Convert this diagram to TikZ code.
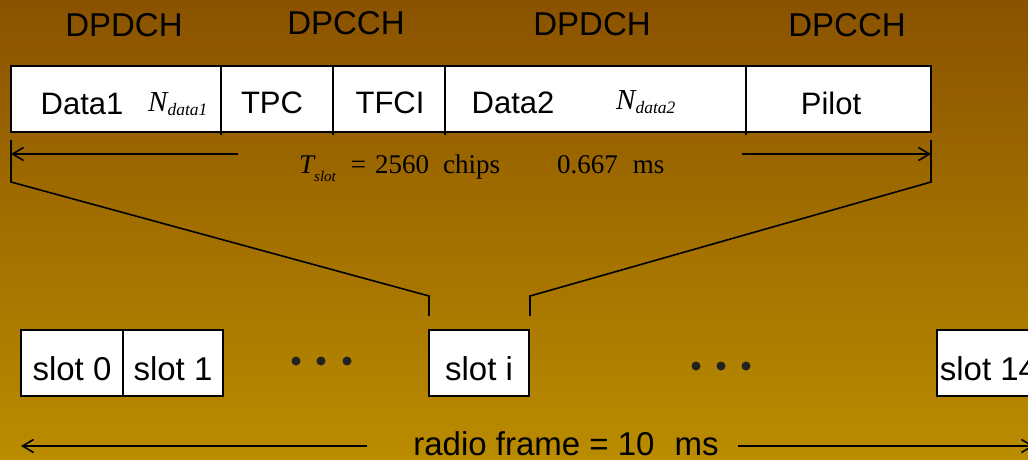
\documentclass[tikz,border=0pt]{standalone}
\usepackage{fontspec}
\setmainfont{Liberation Sans}
\newfontfamily\timesfont{Liberation Serif}
\usepackage{tikz}
\usetikzlibrary{arrows.meta,calc}
\definecolor{bgtop}{RGB}{138,82,0}
\definecolor{bgbot}{RGB}{186,140,0}
\definecolor{dotgray}{RGB}{34,34,34}

\begin{document}
\begin{tikzpicture}[x=1pt, y=-1pt,
  field/.style={draw, fill=white, line width=1.9pt, minimum height=66pt, inner sep=0pt, outer sep=0pt, anchor=north west},
  boxtext/.style={anchor=base, inner sep=0pt, font=\fontsize{31}{31}\selectfont},
  chantext/.style={anchor=base, inner sep=0pt, font=\fontsize{33}{33}\selectfont},
  mathtext/.style={anchor=base west, inner sep=0pt, font=\timesfont\fontsize{29}{29}\selectfont},
  guide/.style={line width=1.6pt},
  dimarrow/.style={line width=1.6pt, -{Straight Barb[length=11pt,width=13pt]}}]
  % Background
  \useasboundingbox (0,0) rectangle (1028,459);
  \clip (0,0) rectangle (1028,459);
  \shade[top color=bgtop, bottom color=bgbot] (0,0) rectangle (1028,459);
  % Channel names
  \node[chantext] (ch1) at (124,36) {DPDCH};
  \node[chantext] (ch2) at (346,34) {DPCCH};
  \node[chantext] (ch3) at (592,35) {DPDCH};
  \node[chantext] (ch4) at (847,36) {DPCCH};
  % Slot fields
  \foreach \n/\x/\w in {data1/11/210, tpc/221/112, tfci/333/112, data2/445/301, pilot/746/185} {
    \node[field, minimum width=\w pt] (\n) at (\x,66) {};
  }
  \foreach \n in {tpc, tfci, data2, pilot} {
    \draw[guide] (\n.south west) -- ++(0,3);
  }
  % Field labels
  \node[boxtext] (data1-t) at (82,114) {Data1};
  \node[mathtext] (ndata1) at (148,111) {\itshape N\raisebox{-4pt}{\fontsize{17.5}{17.5}\selectfont data1}};
  \node[boxtext] (tpc-t) at (272,113) {TPC};
  \node[boxtext] (tfci-t) at (390,113) {TFCI};
  \node[boxtext] (data2-t) at (513,113) {Data2};
  \node[mathtext] (ndata2) at (616,109) {\itshape N\raisebox{-4pt}{\fontsize{17.5}{17.5}\selectfont data2}};
  \node[boxtext] (pilot-t) at (831,114) {Pilot};
  % Slot duration
  \coordinate (tslotL) at ($(data1.south west)+(0,22)$);
  \coordinate (tslotL0) at ($(tslotL)+(227,0)$);
  \coordinate (tslotR) at ($(pilot.south east)+(0,22)$);
  \coordinate (tslotR0) at ($(tslotR)+(-189,0)$);
  \draw[dimarrow] (tslotL0) -- (tslotL);
  \draw[dimarrow] (tslotR0) -- (tslotR);
  \node[anchor=base west, inner sep=0pt, font=\timesfont\fontsize{27}{27}\selectfont] (tslot) at (299,173)
    {{\itshape T}\raisebox{-8pt}{\fontsize{15}{15}\selectfont\itshape slot}\hspace{15pt}=\hspace{9pt}2560\hspace{14pt}chips\hspace{57pt}0.667\hspace{15pt}ms};
  % Radio frame slots
  \foreach \n/\x/\w/\l in {slot0/21/102/slot 0, slot1/123/100/slot 1, sloti/429/100/slot i, slot14/937/103/slot 14} {
    \node[field, minimum width=\w pt] (\n) at (\x,330) {};
    \node[chantext] (\n-t) at ($(\n.south)+(0,-16)$) {\l};
  }
  \foreach \x in {296, 321, 347} {
    \fill[dotgray] (\x,361) circle (4.5pt);
  }
  \foreach \x in {696, 721, 746} {
    \fill[dotgray] (\x,366) circle (4.5pt);
  }
  % Zoom lines
  \draw[guide] ($(data1.south west)+(0,8)$) -- (tslotL) -- ++(0,28) -- ($(sloti.north west)+(0,-34)$) -- ++(0,20);
  \draw[guide] ($(pilot.south east)+(0,8)$) -- (tslotR) -- ++(0,28) -- ($(sloti.north east)+(1,-34)$) -- ++(0,20);
  % Radio frame
  \node[chantext] (frame) at (566,455) {radio frame = 10\hspace{20pt}ms};
  \coordinate (frameL) at (21,446);
  \coordinate (frameL0) at (367,446);
  \coordinate (frameR0) at (738,446);
  \coordinate (frameR) at (1034,446);
  \draw[dimarrow] (frameL0) -- (frameL);
  \draw[dimarrow] (frameR0) -- (frameR);
\end{tikzpicture}
\end{document}
